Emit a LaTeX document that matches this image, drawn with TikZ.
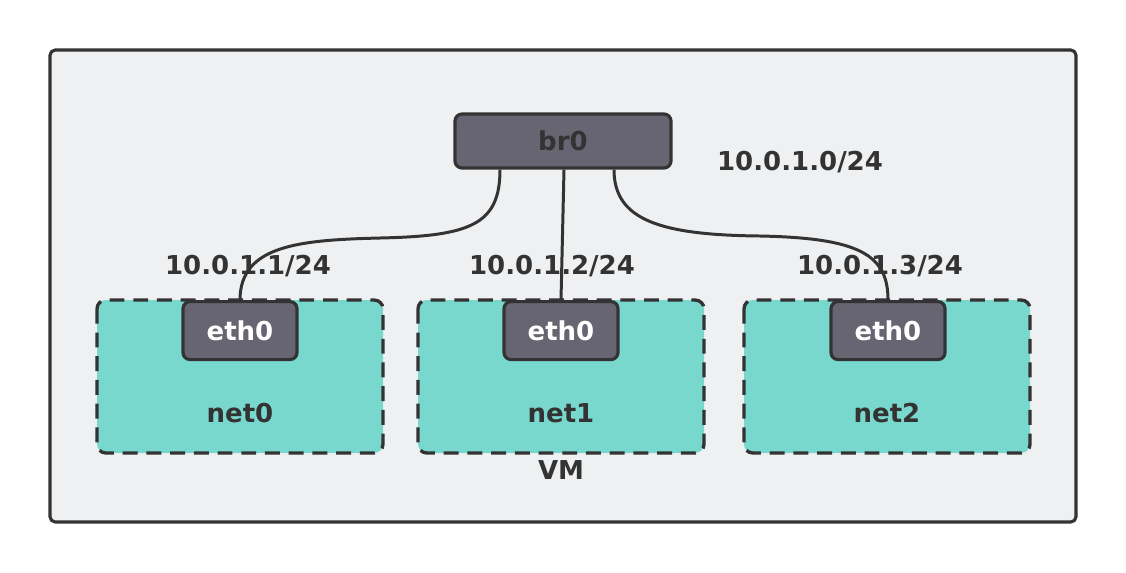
\documentclass[tikz,border=0pt]{standalone}
\usepackage{fontspec}
\setmainfont{DejaVu Sans}
\usetikzlibrary{positioning}

\begin{document}
\begin{tikzpicture}[
    x=0.02cm, y=-0.02cm,
    line join=round,
    every node/.style={font=\bfseries\fontsize{14.8}{17}\selectfont, text=textdark},
    vmbox/.style={draw=textdark, line width=1.8pt, fill=vmgray, rounded corners=3pt},
    netbox/.style={draw=textdark, line width=1.9pt, fill=netteal, rounded corners=5pt,
      dash pattern=on 8.5pt off 5pt},
    devbox/.style={draw=textdark, line width=1.8pt, fill=devgray, rounded corners=4pt,
      inner sep=0pt},
    wire/.style={draw=textdark, line width=1.7pt},
    % ip/.style={text=red},
  ]
  \definecolor{textdark}{HTML}{333333}
  \definecolor{vmgray}{HTML}{EFF0F2}
  \definecolor{netteal}{HTML}{78D8CD}
  \definecolor{devgray}{HTML}{686573}

  \useasboundingbox (0,0) rectangle (1126,572);

  % the VM
  \draw[vmbox] (50,50) rectangle (1076,522);
  \node (vm) at (561,470) {VM};

  % bridge
  \node[devbox, minimum width=216*0.02cm, minimum height=54*0.02cm] (br0) at (563,141) {br0};
  \node (subnet) at (800,162) {10.0.1.0/24};

  % namespaces
  \foreach \n/\cx/\lx in {0/240/248, 1/561/552, 2/887/880}{
    \draw[netbox] (\cx-143,300) rectangle (\cx+143,453);
    \node (net\n) at (\cx,413) {net\n};
    \node (ip\n) at (\lx,266) {10.0.1.\the\numexpr\n+1\relax/24};
  }

  % cables
  \draw[wire] ([xshift=-63*0.02cm]br0.south) .. controls (500,225) and (470,236) .. (380,238)
    .. controls (300,240) and (240,245) .. (240,300) coordinate (c0);
  \draw[wire] ([xshift=1*0.02cm]br0.south) -- (561,300) coordinate (c1);
  \draw[wire] ([xshift=51*0.02cm]br0.south) .. controls (614,220) and (660,235) .. (760,236)
    .. controls (860,238) and (888,255) .. (888,300) coordinate (c2);

  % interfaces
  \foreach \n/\cx in {0/239, 1/560, 2/887}{
    \node[devbox, text=white, minimum width=114*0.02cm, minimum height=58*0.02cm,
      below=0pt of c\n] (eth\n) {eth0};
  }
\end{tikzpicture}
\end{document}
